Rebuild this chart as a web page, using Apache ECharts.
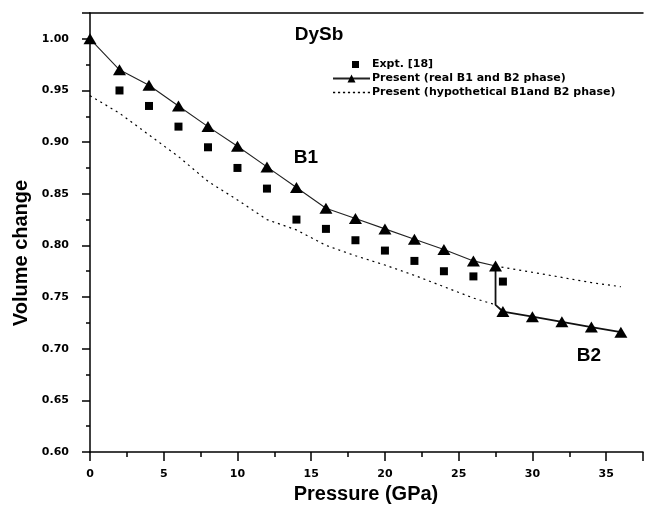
<!DOCTYPE html>
<html>
<head>
<meta charset="utf-8">
<script src="https://cdn.jsdelivr.net/npm/echarts@6/dist/echarts.min.js"></script>
<style>
html,body{margin:0;padding:0;background:#fff;}
#chart{width:646px;height:513px;}
</style>
</head>
<body>
<div id="chart"></div>
<script>
// ---- data ----
const expPressure = [2,4,6,8,10,12,14,16,18,20,22,24,26,28];
const expVolume   = [0.950,0.935,0.915,0.895,0.875,0.855,0.825,0.816,0.805,0.795,0.785,0.775,0.770,0.765];

const b1Pressure = [0,2,4,6,8,10,12,14,16,18,20,22,24,26,27.5];
const b1Volume   = [1.000,0.970,0.955,0.935,0.915,0.896,0.876,0.856,0.836,0.826,0.816,0.806,0.796,0.785,0.780];

const transitionPressure = 27.5;
const transitionTop = 0.780;
const transitionBottom = 0.7425;

const b2Pressure = [28,30,32,34,36];
const b2Volume   = [0.736,0.731,0.726,0.721,0.716];

const hypLowPressure = [0,2,4,6,8,10,12,14,16,18,20,22,24,26,27.5];
const hypLowVolume   = [0.945,0.928,0.907,0.886,0.862,0.844,0.825,0.815,0.800,0.790,0.781,0.771,0.760,0.749,0.7425];

const hypHighPressure = [27.5,30,32,34,36];
const hypHighVolume   = [0.780,0.774,0.769,0.764,0.760];

const seriesNames = ['Expt. [18]','Present (real B1 and B2 phase)','Present (hypothetical B1and B2 phase)'];

// ---- build ----
const zip = (xs, ys) => xs.map((x, i) => [x, ys[i]]);
const b2Data = [
  {value:[transitionPressure, transitionTop], symbol:'none'},
  {value:[transitionPressure, transitionBottom], symbol:'none'}
].concat(zip(b2Pressure, b2Volume));

// legend icons (37 x 10 boxes)
const squareIcon = 'path://M0,0L0,0.01M37,10L37,9.99M19,1.5h7v7h-7z';
let dots = 'path://M0,0L0,0.01M37,10L37,9.99';
for (let x = 0; x <= 35; x += 5) dots += 'M' + x + ',4.3h2.2v1.5h-2.2z';

const FONT = 'DejaVu Sans';
const chart = echarts.init(document.getElementById('chart'));
const isMult = (v, step) => Math.abs(v/step - Math.round(v/step)) < 1e-6;

chart.setOption({
  animation: false,
  backgroundColor: '#fff',
  grid: {left: 90, right: 0, top: 13, bottom: 61, containLabel: false},
  legend: {
    orient: 'vertical', left: 327, top: 54, itemWidth: 37, itemHeight: 10, itemGap: 3,
    textStyle: {fontFamily: FONT, fontWeight: 'bold', fontSize: 11, color: '#000', padding:[0,0,0,-3]},
    data: [
      {name: seriesNames[0], icon: squareIcon, itemStyle: {color: '#000', opacity: 1}},
      {name: seriesNames[1]},
      {name: seriesNames[2], icon: dots, itemStyle: {color: '#000'}}
    ]
  },
  xAxis: [{
    type: 'value', min: 0, max: 37.5, interval: 5,
    axisLine: {show: true, lineStyle: {color: '#000', width: 1.5}},
    axisTick: {show: true, length: 9, lineStyle: {color: '#000', width: 1.5}},
    minorTick: {show: true, splitNumber: 2, length: 5, lineStyle: {color: '#000', width: 1.5}},
    splitLine: {show: false},
    axisLabel: {margin: 17, fontFamily: FONT, fontWeight: 'bold', fontSize: 11, color: '#000',
      formatter: v => isMult(v, 5) ? String(v) : ''}
  },{
    type: 'value', position: 'top', min: 0, max: 37.5,
    axisLine: {show: true, onZero: false, lineStyle: {color: '#000', width: 1.5}},
    axisTick: {show: false}, axisLabel: {show: false}, splitLine: {show: false}
  }],
  yAxis: {
    type: 'value', min: 0.6, max: 1.025, interval: 0.05,
    axisLine: {show: true, lineStyle: {color: '#000', width: 1.5}},
    axisTick: {show: true, length: 8, lineStyle: {color: '#000', width: 1.5}},
    minorTick: {show: true, splitNumber: 2, length: 4, lineStyle: {color: '#000', width: 1.5}},
    splitLine: {show: false},
    axisLabel: {margin: 21, fontFamily: FONT, fontWeight: 'bold', fontSize: 11, color: '#000',
      formatter: v => isMult(v, 0.05) ? v.toFixed(2) : ''}
  },
  series: [
    {
      name: seriesNames[0], type: 'scatter', symbol: 'rect', symbolSize: 8,
      itemStyle: {color: '#000', opacity: 1}, data: zip(expPressure, expVolume), z: 3
    },
    {
      name: seriesNames[1], type: 'line', symbol: 'triangle', symbolSize: [13, 11],
      showAllSymbol: true,
      itemStyle: {color: '#000'}, lineStyle: {color: '#222', width: 1.1},
      data: zip(b1Pressure, b1Volume), z: 4
    },
    {
      name: seriesNames[1], type: 'line', symbol: 'triangle', symbolSize: [13, 11],
      showAllSymbol: true,
      itemStyle: {color: '#000'}, lineStyle: {color: '#111', width: 1.8},
      data: b2Data, z: 4
    },
    {
      name: seriesNames[2], type: 'line', symbol: 'none',
      lineStyle: {color: '#000', width: 1.2, type: [2, 4]},
      itemStyle: {color: '#000'},
      data: zip(hypLowPressure, hypLowVolume), z: 2
    },
    {
      name: seriesNames[2], type: 'line', symbol: 'none',
      lineStyle: {color: '#000', width: 1.2, type: [2, 4]},
      itemStyle: {color: '#000'},
      data: zip(hypHighPressure, hypHighVolume), z: 2
    }
  ],
  graphic: [
    {type: 'text', x: 319, y: 35, style: {text: 'DySb', fontFamily: 'Liberation Sans', fontWeight: 'bold', fontSize: 19, fill: '#000', align: 'center', verticalAlign: 'middle'}},
    {type: 'text', x: 306, y: 158, style: {text: 'B1', fontFamily: 'Liberation Sans', fontWeight: 'bold', fontSize: 19, fill: '#000', align: 'center', verticalAlign: 'middle'}},
    {type: 'text', x: 589, y: 356, style: {text: 'B2', fontFamily: 'Liberation Sans', fontWeight: 'bold', fontSize: 19, fill: '#000', align: 'center', verticalAlign: 'middle'}},
    {type: 'text', x: 366, y: 494, style: {text: 'Pressure (GPa)', fontFamily: 'Liberation Sans', fontWeight: 'bold', fontSize: 20, fill: '#000', align: 'center', verticalAlign: 'middle'}},
    {type: 'text', x: 21, y: 253, rotation: Math.PI/2, style: {text: 'Volume change', fontFamily: 'Liberation Sans', fontWeight: 'bold', fontSize: 20, fill: '#000', align: 'center', verticalAlign: 'middle'}}
  ]
});
</script>
</body>
</html>
